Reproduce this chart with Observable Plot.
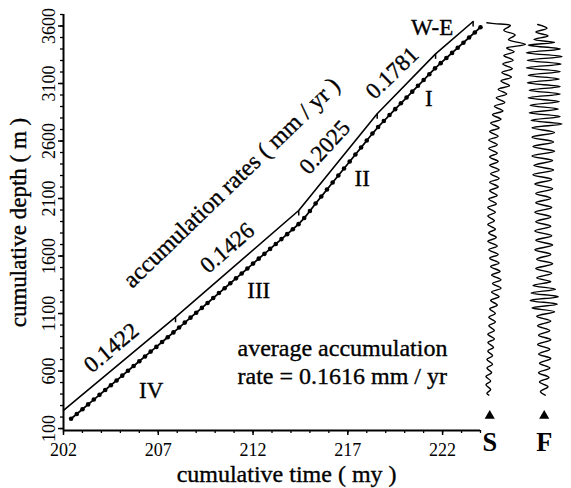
<!DOCTYPE html>
<html><head><meta charset="utf-8">
<script src="https://cdn.jsdelivr.net/npm/d3@7"></script>
<script src="https://cdn.jsdelivr.net/npm/@observablehq/plot@0.6"></script>
<style>
html,body{margin:0;padding:0;background:#fff;overflow:hidden}
#wrap{position:relative;width:571px;height:488px;overflow:hidden;background:#fff}
#main{position:absolute;left:0;top:0}
#traces{position:absolute;left:462px;top:0}
</style></head><body><div id="wrap"><div id="main"></div><div id="traces"></div></div>
<script>
// ---- data ----
const dotTimes = [202.4,202.7,203.0,203.3,203.6,203.9,204.2,204.5,204.8,205.1,205.4,205.7,206.0,206.3,206.6,206.9,207.2,207.5,207.8,
  208.1,208.4,208.7,209.0,209.3,209.6,209.9,210.2,210.5,210.8,211.1,211.4,211.7,212.0,212.3,212.6,212.9,213.2,213.5,213.8,214.1,
  214.4,214.7,215.0,215.3,215.6,215.9,216.2,216.5,216.8,217.1,217.4,217.7,218.0,218.3,
  218.6,218.9,219.2,219.5,219.8,220.1,220.4,220.7,221.0,221.3,221.6,
  221.9,222.2,222.5,222.8,223.1,223.4,223.7,224.0];
const dotDepths = [185,226,268,310,352,393,435,477,518,560,602,644,685,727,769,810,852,894,936,
  978,1021,1064,1107,1149,1192,1235,1278,1320,1363,1406,1448,1491,1534,1577,1619,1662,1705,1747,1790,1833,
  1877,1930,1992,2057,2117,2178,2239,2300,2361,2422,2483,2543,2604,2665,
  2722,2774,2826,2877,2928,2978,3029,3080,3130,3181,3232,
  3277,3322,3366,3411,3455,3500,3544,3589];
const rateTimes  = [202, 207.91, 214.41, 218.55, 221.63, 223.61];
const rateDepths = [257, 1068, 1996, 2837, 3358, 3639];
const rateLabels = ["0.1422", "0.1426", "0.2025", "0.1781"];
const unitLabels = ["IV", "III", "II", "I"];
const xMajor = [202, 207, 212, 217, 222];
const yMajor = [100, 600, 1100, 1600, 2100, 2600, 3100, 3600];
const traceNames = ["S", "F"];
const traceS = [[3616,-3],[3607,5],[3590,22],[3546,15],[3503,27],[3460,20],[3416,38],[3381,18],[3347,26],[3312,15],[3268,25],[3234,14],[3190,24],[3156,13],[3112,23],[3077,12],[3034,21],[2999,9],[2956,18],[2921,7],[2878,16],[2843,5],[2800,14],[2765,3],[2722,12],[2687,1],[2643,10],[2609,0],[2565,9],[2530,-1],[2487,8],[2452,-1],[2409,8],[2374,0],[2331,9],[2296,0],[2253,10],[2218,1],[2175,10],[2140,0],[2097,9],[2062,0],[2018,8],[1984,-1],[1940,7],[1906,-2],[1862,6],[1827,-2],[1784,5],[1749,-2],[1706,6],[1671,-1],[1628,7],[1593,-2],[1550,8],[1515,-1],[1472,9],[1437,0],[1393,10],[1359,1],[1315,11],[1281,2],[1237,12],[1202,3],[1159,12],[1124,2],[1081,10],[1046,1],[1003,8],[968,0],[925,6],[890,-1],[847,6],[812,-1],[768,5],[734,-2],[690,5],[656,-2],[612,4],[577,-2],[534,3],[499,-3],[456,3],[421,-3],[378,2],[343,-4],[300,1],[265,-4],[222,1],[187,-3],[170,-1]];
const traceF = [[3599,-7],[3564,3],[3529,-9],[3494,4],[3460,-11],[3434,11],[3408,-17],[3373,17],[3338,-19],[3303,19],[3268,-18],[3234,18],[3199,-19],[3164,17],[3130,-17],[3095,16],[3060,-18],[3025,17],[2991,-16],[2956,17],[2921,-17],[2886,16],[2852,-15],[2817,15],[2782,-16],[2748,17],[2713,-14],[2678,19],[2643,-13],[2600,11],[2557,-13],[2513,10],[2470,-12],[2426,11],[2383,-13],[2340,9],[2296,-11],[2253,10],[2209,-12],[2166,8],[2123,-10],[2079,9],[2036,-9],[1992,7],[1949,-9],[1906,8],[1862,-10],[1819,7],[1775,-9],[1732,7],[1689,-10],[1645,8],[1602,-9],[1558,9],[1515,-10],[1472,7],[1428,-8],[1385,9],[1341,-9],[1298,8],[1255,-8],[1220,7],[1185,-12],[1150,12],[1116,-14],[1081,15],[1046,-15],[1011,14],[977,-13],[942,11],[899,-8],[855,7],[812,-7],[768,6],[725,-6],[682,7],[638,-7],[595,6],[551,-6],[508,7],[465,-5],[421,6],[378,-6],[334,5],[291,-5],[248,4],[204,-4],[169,1]];

// ---- tables ----
const dots = dotTimes.map((t, i) => ({t, d: dotDepths[i]}));
const rates = rateTimes.map((t, i) => ({t, d: rateDepths[i]}));
const xMinor = d3.range(202, 225, 1);
const yMinor = d3.range(100, 3701, 100);
const traceRows = [
  ...traceS.map(([d, v]) => ({trace: "S", d, v})),
  ...traceF.map(([d, v]) => ({trace: "F", d, v}))
];

const serif = "'Liberation Serif', 'Times New Roman', serif";
const tickDown = {draw(ctx) { ctx.moveTo(0, 0); ctx.lineTo(0, 5); }};
const T = (s, o) => Plot.text([s], {text: d => d, fill: "black", stroke: "black", strokeWidth: 0.35, ...o});

const main = Plot.plot({
  width: 571, height: 488,
  marginLeft: 63, marginRight: 91, marginTop: 14, marginBottom: 58,
  x: {domain: [202, 224], label: null},
  y: {domain: [83, 3700], label: null},
  style: {fontFamily: serif, fontSize: "18px", color: "black", background: "transparent"},
  marks: [
    Plot.axisX(xMinor, {tickSize: 3, tickFormat: () => "", label: null, strokeWidth: 1.3}),
    Plot.axisX(xMajor, {tickSize: 5, tickPadding: 8, tickFormat: d => String(d), label: null, strokeWidth: 1.5, fontSize: 18}),
    Plot.axisY(yMinor, {tickSize: 3, tickFormat: () => "", label: null, strokeWidth: 1.3}),
    Plot.axisY(yMajor, {tickSize: 5, tickRotate: -90, tickFormat: d => String(d), label: null, strokeWidth: 1.5, fontSize: 18}),
    Plot.ruleX([202], {strokeWidth: 2}),
    Plot.ruleY([83], {strokeWidth: 2}),
    // offset rate line with break ticks
    Plot.line(rates, {x: "t", y: "d", stroke: "black", strokeWidth: 1.6}),
    Plot.dot(rates.slice(1), {x: "t", y: "d", symbol: tickDown, stroke: "black", fill: "none", strokeWidth: 1.5}),
    // data curve
    Plot.line(dots, {x: "t", y: "d", stroke: "black", strokeWidth: 1.8}),
    Plot.dot(dots, {x: "t", y: "d", r: 2.3, fill: "black"}),
    // annotations
    T(rateLabels[0], {x: 204.52, y: 802, rotate: -40, fontSize: 23}),
    T(rateLabels[1], {x: 210.64, y: 1670, rotate: -41, fontSize: 23}),
    T(rateLabels[2], {x: 215.78, y: 2546, rotate: -48, fontSize: 23}),
    T(rateLabels[3], {x: 219.34, y: 3191, rotate: -44, fontSize: 23}),
    T("accumulation rates ( mm / yr )", {x: 210.86, y: 2239, rotate: -44, fontSize: 24}),
    T(unitLabels[0], {x: 206.63, y: 431, fontSize: 23}),
    T(unitLabels[1], {x: 212.30, y: 1300, fontSize: 23}),
    T(unitLabels[2], {x: 217.76, y: 2271, fontSize: 23}),
    T(unitLabels[3], {x: 221.27, y: 2972, fontSize: 23}),
    T("W-E", {x: 221.45, y: 3590, fontSize: 23}),
    T("average accumulation", {x: 211.18, y: 735, textAnchor: "start", lineAnchor: "bottom", fontSize: 24}),
    T("rate = 0.1616 mm / yr", {x: 211.18, y: 483, textAnchor: "start", lineAnchor: "bottom", fontSize: 24}),
    T("cumulative time ( my )", {x: 213.77, frameAnchor: "bottom", dy: 51, lineAnchor: "bottom", fontSize: 24}),
    T("cumulative depth ( m )", {frameAnchor: "left", dx: -45, rotate: -90, textAnchor: "middle", lineAnchor: "middle", fontSize: 23})
  ]
});
document.getElementById("main").append(main);

const traces = Plot.plot({
  width: 116, height: 488,
  marginLeft: 0, marginRight: 0, marginTop: 14, marginBottom: 58,
  fx: {domain: traceNames, padding: 0, axis: null, label: null},
  x: {domain: [-29, 29], axis: null},
  y: {domain: [83, 3700], axis: null},
  style: {fontFamily: serif, fontSize: "18px", color: "black", background: "transparent", overflow: "visible"},
  marks: [
    Plot.line(traceRows, {fx: "trace", x: "v", y: "d", curve: "catmull-rom", stroke: "black", strokeWidth: 1.5}),
    Plot.dot(traceNames, {fx: d => d, frameAnchor: "bottom", dy: 12, symbol: "triangle", r: 4, fill: "black"}),
    Plot.text(traceNames, {fx: d => d, text: d => d, frameAnchor: "bottom", dy: 40, lineAnchor: "middle", fontSize: 28, fontWeight: "bold", fill: "black"})
  ]
});
document.getElementById("traces").append(traces);
</script></body></html>
